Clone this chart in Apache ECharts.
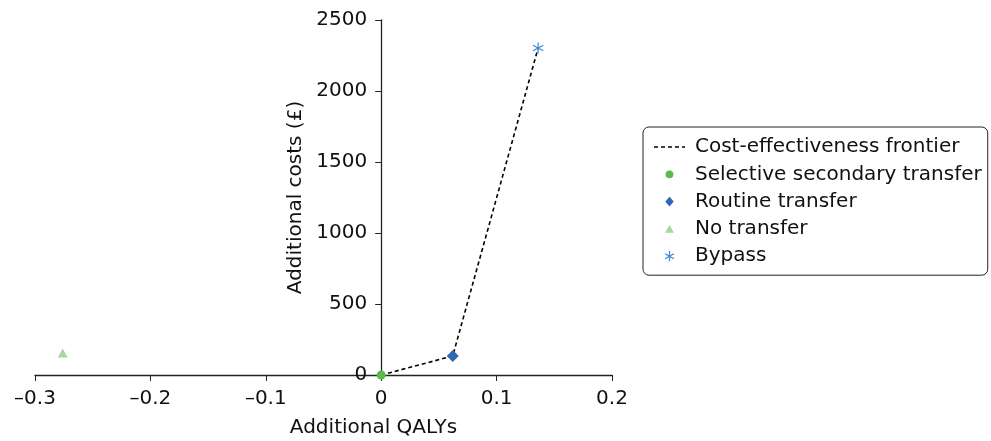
<!DOCTYPE html>
<html><head><meta charset="utf-8">
<script src="https://cdn.jsdelivr.net/npm/echarts@6/dist/echarts.min.js"></script>
<style>html,body{margin:0;padding:0;background:#fff}#c{width:991px;height:441px}</style>
</head><body><div id="c"></div>
<script>
const seriesNames = ['Cost-effectiveness frontier','Selective secondary transfer','Routine transfer','No transfer','Bypass'];
const frontierQALY = [0, 0.062, 0.136];
const frontierCost = [0, 134, 2303];
const selectiveSecondary = [[0, 0]];
const routineTransfer = [[0.062, 134]];
const noTransfer = [[-0.276, 155]];
const bypass = [[0.136, 2303]];
const xTicks = [-0.3, -0.2, -0.1, 0, 0.1, 0.2];
const yTicks = [0, 500, 1000, 1500, 2000, 2500];

const FONT = 'DejaVu Sans';
const FS = 20;
const W = 991, GL = 35, GR = 379;
const xMin = xTicks[0], xMax = xTicks[xTicks.length - 1];
const plotW = W - GL - GR;
const yAxisOffset = -((0 - xMin) / (xMax - xMin)) * plotW;

const BOX = 'M-10,-10 M10,10 ';
const asterisk = 'path://M-1,-10L1,-10L1,10L-1,10Z M8.16,-5.87L9.16,-4.13L-8.16,5.87L-9.16,4.13Z M-9.16,-4.13L-8.16,-5.87L9.16,4.13L8.16,5.87Z';
const legAsterisk = 'path://' + BOX + 'M-1,-8.5L1,-8.5L1,8.5L-1,8.5Z M6.86,-5.1L7.86,-3.4L-6.86,5.1L-7.86,3.4Z M-7.86,-3.4L-6.86,-5.1L7.86,3.4L6.86,5.1Z';
const legCircle = 'path://' + BOX + 'M-6.5,0A6.5,6.5,0,1,0,6.5,0A6.5,6.5,0,1,0,-6.5,0Z';
const legDiamond = 'path://' + BOX + 'M0,-8L7,0L0,8L-7,0Z';
const legTriangle = 'path://' + BOX + 'M0,-6.5L7.5,6.5L-7.5,6.5Z';
const legDashes = 'path://M0,0 M31,12 M0,5.2h4v1.6h-4Z M7,5.2h4v1.6h-4Z M14,5.2h4v1.6h-4Z M21,5.2h4v1.6h-4Z M28,5.2h3v1.6h-3Z';

const chart = echarts.init(document.getElementById('c'));
chart.setOption({
  animation: false,
  textStyle: {fontFamily: FONT},
  grid: {left: GL, right: GR, top: 20, bottom: 66, containLabel: false, outerBoundsMode: 'none'},
  xAxis: {
    type: 'value', min: xMin, max: xMax, interval: 0.1,
    name: 'Additional QALYs', nameLocation: 'middle', nameGap: 43,
    nameTextStyle: {fontSize: FS, color: '#111', fontFamily: FONT, padding: [0,0,0,100]},
    axisLine: {onZero: false, lineStyle: {color: '#222', width: 1.3}},
    axisTick: {show: true, length: 6, lineStyle: {color: '#222'}},
    axisLabel: {fontSize: FS, color: '#111', fontFamily: FONT, margin: 14,
      formatter: v => (Math.abs(v) < 1e-9 ? '0' : (v < 0 ? '\u2013' + Math.abs(v).toFixed(1) : v.toFixed(1)))},
    splitLine: {show: false}
  },
  yAxis: {
    type: 'value', min: yTicks[0], max: yTicks[yTicks.length-1], interval: 500,
    position: 'left', offset: yAxisOffset,
    name: 'Additional costs (£)', nameLocation: 'middle', nameGap: 68,
    nameTextStyle: {fontSize: FS, color: '#111', fontFamily: FONT},
    axisLine: {show: true, onZero: false, lineStyle: {color: '#222', width: 1.3}},
    axisTick: {show: true, length: 6, lineStyle: {color: '#222'}},
    axisLabel: {fontSize: FS, color: '#111', fontFamily: FONT, margin: 14, formatter: v => String(v)},
    splitLine: {show: false}
  },
  legend: {
    orient: 'vertical', left: 643, top: 127,
    padding: [10, 6, 9, 11],
    borderColor: '#222', borderWidth: 1, borderRadius: 6,
    itemWidth: 31, itemHeight: 12, itemGap: 7.3,
    textStyle: {fontSize: FS, color: '#111', fontFamily: FONT, padding: [0,0,0,5]},
    data: [
      {name: seriesNames[0], icon: legDashes},
      {name: seriesNames[1], icon: legCircle},
      {name: seriesNames[2], icon: legDiamond},
      {name: seriesNames[3], icon: legTriangle},
      {name: seriesNames[4], icon: legAsterisk}
    ]
  },
  series: [
    {name: seriesNames[0], type: 'line', symbol: 'none', z: 1,
      data: frontierQALY.map((q, i) => [q, frontierCost[i]]),
      lineStyle: {color: '#000', width: 1.6, type: [4, 3]}, itemStyle: {color: '#000'}},
    {name: seriesNames[1], type: 'scatter', symbol: 'circle', symbolSize: 9, z: 3,
      data: selectiveSecondary, itemStyle: {color: '#5cba4c', opacity: 1}},
    {name: seriesNames[2], type: 'scatter', symbol: 'diamond', symbolSize: 12, z: 3,
      data: routineTransfer, itemStyle: {color: '#2d67b5', opacity: 1}},
    {name: seriesNames[3], type: 'scatter', symbol: 'triangle', symbolSize: [10, 9], z: 3,
      data: noTransfer, itemStyle: {color: '#a6d79c', opacity: 1}},
    {name: seriesNames[4], type: 'scatter', symbol: asterisk, symbolSize: 11, z: 3,
      data: bypass, itemStyle: {color: '#3a8ad6', opacity: 1}}
  ]
});
</script></body></html>
